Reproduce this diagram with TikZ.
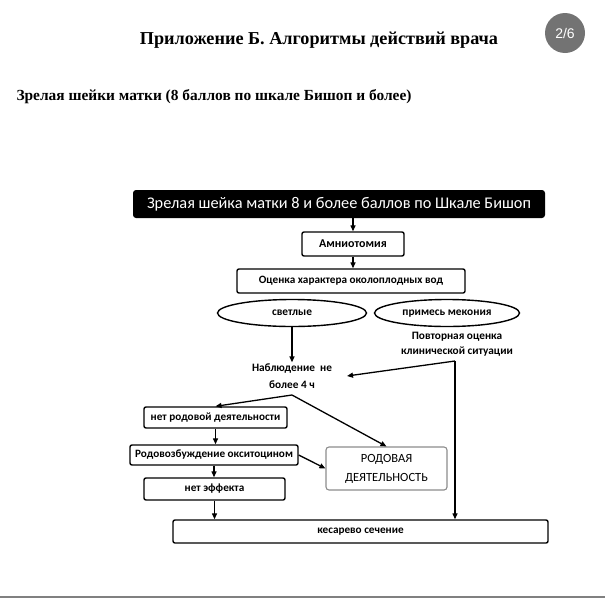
\documentclass[tikz,border=0pt]{standalone}
\usepackage{fontspec}
\setmainfont{Liberation Serif}
\newfontfamily\calfont{Carlito}
\newfontfamily\badgefont{Liberation Sans}
\usetikzlibrary{shapes.geometric,arrows.meta}
\tikzset{
  box/.style={draw, line width=1.4pt, rounded corners=2pt, inner sep=0pt, font=\calfont\bfseries\fontsize{11.2}{13}\selectfont},
  ell/.style={ellipse, draw, line width=1.4pt, inner sep=0pt, text height=7.5pt, text depth=2.5pt, font=\calfont\bfseries\fontsize{11.4}{13}\selectfont},
  arr/.style={-{Triangle[length=6pt,width=5pt]}, line width=1.3pt},
}
\begin{document}
\begin{tikzpicture}[x=1pt,y=-1pt]
\useasboundingbox (0,0) rectangle (605,600);
\node[font=\bfseries\fontsize{18.2}{21}\selectfont] (title) at (319,40) {Приложение Б. Алгоритмы действий врача};
\node[circle, fill=black!55, minimum size=40pt, text=white, font=\badgefont\fontsize{14}{16}\selectfont] (badge) at (565,33) {2/6};
\node[anchor=west, font=\bfseries\fontsize{15.4}{18}\selectfont] (sub) at (13,97) {Зрелая шейки матки (8 баллов по шкале Бишоп и более)};

\node[fill=black, rounded corners=3pt, minimum width=412pt, minimum height=28pt, inner sep=0pt, text=white, font=\calfont\fontsize{16.3}{18}\selectfont] (top) at (339,204) {Зрелая шейка матки 8 и более баллов по Шкале Бишоп};
\node[box, minimum width=102pt, minimum height=24pt, font=\calfont\bfseries\fontsize{12}{14}\selectfont] (amnio) at (353,244) {Амниотомия};
\node[box, minimum width=228pt, minimum height=24pt] (ocenka) at (351,281) {Оценка характера околоплодных вод};
\node[ell, minimum width=149pt, minimum height=27pt] (svet) at (292,313) {светлые};
\node[ell, minimum width=145pt, minimum height=27pt] (mek) at (447,313) {примесь мекония};
\node[align=center, inner sep=1pt, font=\calfont\bfseries\fontsize{11.3}{15}\selectfont] (povt) at (457,344) {Повторная оценка\\клинической ситуации};
\node[align=center, inner sep=1pt, font=\calfont\bfseries\fontsize{11.3}{17}\selectfont] (nabl) at (292,376) {Наблюдение \ не\\более 4 ч};
\node[box, minimum width=143pt, minimum height=21pt] (netrod) at (215.5,417.5) {нет родовой деятельности};
\node[box, minimum width=168pt, minimum height=20pt] (rodvozb) at (214,455) {Родовозбуждение окситоцином};
\node[box, minimum width=141pt, minimum height=22pt] (neteff) at (214.5,489) {нет эффекта};
\node[box, draw=black!45, line width=1.1pt, rounded corners=3pt, minimum width=121pt, minimum height=43pt, align=center, font=\calfont\fontsize{12.5}{19}\selectfont] (rodd) at (386.5,468.5) {РОДОВАЯ\\ДЕЯТЕЛЬНОСТЬ};
\node[box, minimum width=375pt, minimum height=23pt] (kes) at (360.5,531.5) {кесарево сечение};

\coordinate (j1) at (455,361);
\coordinate (a1) at (347,376);
\coordinate (j2) at (292,395);

\draw[arr] (amnio.north |- top.south) -- (amnio.north);
\draw[arr] (amnio.south) -- (amnio.south |- ocenka.north);
\draw[arr] (svet.south) -- (svet.south |- nabl.north);
\draw[arr] (j1) -- (a1);
\draw[arr] (j1) -- (kes.north -| j1);
\draw[arr] (j2) -- (netrod.north);
\draw[arr] (j2) -- (rodd.north);
\draw[arr] (netrod.south) -- (netrod.south |- rodvozb.north);
\draw[arr] (rodvozb.south) -- (rodvozb.south |- neteff.north);
\draw[arr] (neteff.south) -- (neteff.south |- kes.north);
\draw[arr] (rodvozb.east) -- (rodd.west);

\draw[black!50, line width=2pt] (0,597) -- (605,597);
\end{tikzpicture}
\end{document}
